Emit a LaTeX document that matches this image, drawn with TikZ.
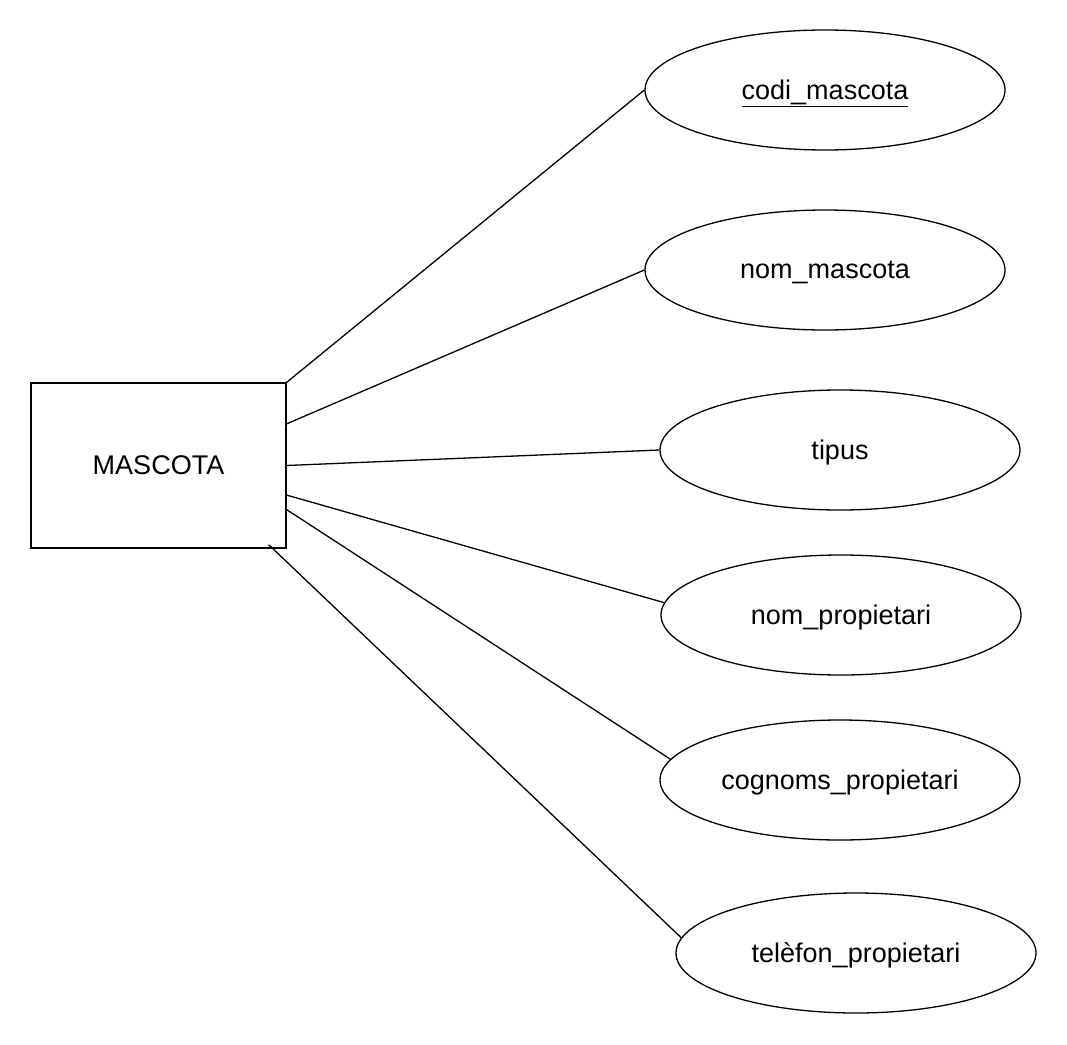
\documentclass[tikz,border=0pt]{standalone}
\usepackage{fontspec}
\setmainfont{Liberation Sans}
\usetikzlibrary{shapes.geometric,calc}
\begin{document}
\begin{tikzpicture}[x=1pt,y=-1pt,
  every node/.style={font=\fontsize{27}{31}\selectfont},
  entity/.style={draw,line width=1.3pt,rectangle,minimum width=255pt,minimum height=165pt,inner sep=0pt,text depth=0pt},
  attr/.style={draw,line width=1.3pt,ellipse,minimum width=360pt,minimum height=120pt,inner sep=0pt,text depth=0pt},
  link/.style={line width=1.3pt}]
\useasboundingbox[fill=white] (0,0) rectangle (1067,1044);
\node[entity] (m) at (158.5,465.5) {MASCOTA};
\node[attr] (e1) at (825,90) {\underline{codi\_mascota}};
\node[attr] (e2) at (825,270) {nom\_mascota};
\node[attr] (e3) at (840,450) {tipus};
\node[attr] (e4) at (841,615) {nom\_propietari};
\node[attr] (e5) at (840,780) {cognoms\_propietari};
\node[attr] (e6) at (856,953) {telèfon\_propietari};
\coordinate (t0) at ($(m.south east)+(-18,-4)$);
\draw[link] (m.north east) -- (e1.west);
\draw[link] (m.18) -- (e2.west);
\draw[link] (m.east) -- (e3.west);
\draw[link] (m.-13) -- (e4.176);
\draw[link] (m.-19.6) -- (e5.173);
\draw[link] (t0) -- (e6.175);
\end{tikzpicture}
\end{document}
